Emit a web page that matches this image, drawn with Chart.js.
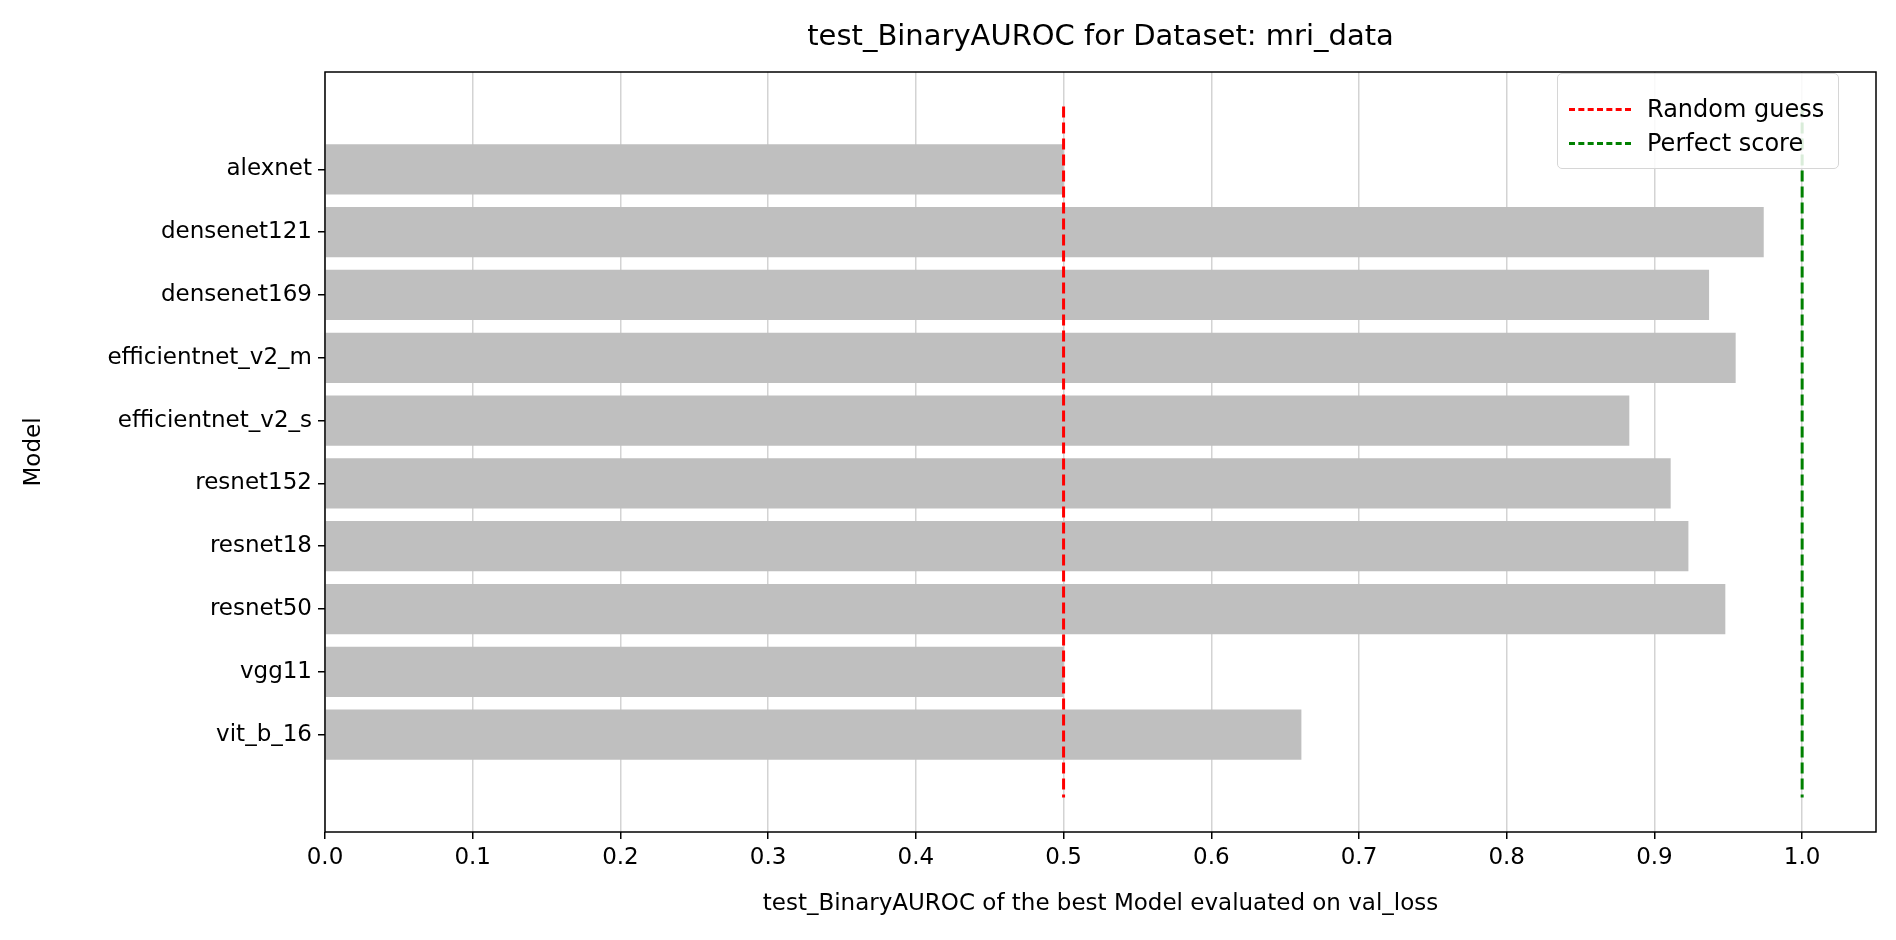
<!DOCTYPE html>
<html>
<head>
<meta charset="utf-8">
<script src="https://cdn.jsdelivr.net/npm/chart.js@4/dist/chart.umd.min.js"></script>
<style>
  body { margin: 0; background: #fff; font-family: "DejaVu Sans", sans-serif; }
  #wrap { position: relative; width: 1896px; height: 940px; }
  #title { position: absolute; left: 325px; width: 1551px; top: 18px; text-align: center; font-size: 29px; color: #000; line-height: 34px; }
  #legend { position: absolute; left: 1557px; top: 73px; width: 280px; height: 94px; border: 1.5px solid #d6d6d6; border-radius: 5px; background: rgba(255,255,255,0.85); font-size: 24px; }
  .row { position: absolute; left: 11px; display: flex; align-items: center; height: 28px; }
  .sw { width: 62px; height: 0; border-top: 3px dashed; margin-right: 16px; }
</style>
</head>
<body>
<div id="wrap">
  <canvas id="c" width="1896" height="940"></canvas>
  <div id="title">test_BinaryAUROC for Dataset: mri_data</div>
  <div id="legend">
    <div class="row" style="top:21px"><div class="sw" style="border-color:#ff0000"></div>Random guess</div>
    <div class="row" style="top:55px"><div class="sw" style="border-color:#008000"></div>Perfect score</div>
  </div>
</div>
<script>
const models = ['alexnet', 'densenet121', 'densenet169', 'efficientnet_v2_m', 'efficientnet_v2_s',
  'resnet152', 'resnet18', 'resnet50', 'vgg11', 'vit_b_16'];
const scores = [0.5, 0.974, 0.937, 0.955, 0.883, 0.911, 0.923, 0.948, 0.5, 0.661];
const randomGuess = 0.5;
const perfectScore = 1.0;
const xTicks = [0, 0.1, 0.2, 0.3, 0.4, 0.5, 0.6, 0.7, 0.8, 0.9, 1.0];

const font = { family: 'DejaVu Sans', size: 23 };

const boxPlugin = {
  id: 'box',
  afterDraw(chart) {
    const a = chart.chartArea, ctx = chart.ctx;
    ctx.save();
    ctx.strokeStyle = '#000';
    ctx.lineWidth = 1.5;
    ctx.strokeRect(a.left, a.top, a.right - a.left, a.bottom - a.top);
    ctx.restore();
  }
};

new Chart(document.getElementById('c'), {
  type: 'bar',
  data: {
    datasets: [{
      type: 'bar',
      data: models.map((m, i) => ({ x: scores[i], y: i })),
      backgroundColor: '#bfbfbf',
      barPercentage: 0.8,
      categoryPercentage: 1.0,
      order: 2
    }, {
      type: 'line',
      data: [{ x: randomGuess, y: -1 }, { x: randomGuess, y: 10 }],
      borderColor: '#ff0000',
      borderWidth: 3,
      borderDash: [11, 5],
      pointRadius: 0,
      order: 1
    }, {
      type: 'line',
      data: [{ x: perfectScore, y: -1 }, { x: perfectScore, y: 10 }],
      borderColor: '#008000',
      borderWidth: 3,
      borderDash: [11, 5],
      pointRadius: 0,
      order: 1
    }]
  },
  options: {
    indexAxis: 'y',
    responsive: false,
    animation: false,
    layout: { padding: { top: 72, right: 20, left: 0, bottom: 0 } },
    plugins: { legend: { display: false }, tooltip: { enabled: false } },
    scales: {
      x: {
        type: 'linear',
        offset: false,
        min: 0, max: 1.05,
        afterBuildTicks: s => { s.ticks = xTicks.map(v => ({ value: v })); },
        afterFit: s => { s.height = 108; },
        ticks: { color: '#000', font, padding: 5, maxRotation: 0, callback: v => v.toFixed(1) },
        grid: { color: '#d3d3d3', lineWidth: 1.5, tickLength: 7, tickColor: '#000', offset: false },
        border: { display: false },
        title: { display: true, text: 'test_BinaryAUROC of the best Model evaluated on val_loss', color: '#000', font, padding: { top: 4, bottom: 22 } }
      },
      y: {
        type: 'linear',
        offset: false,
        reverse: true,
        min: -1.55, max: 10.55,
        afterBuildTicks: s => { s.ticks = models.map((m, i) => ({ value: i })); },
        afterFit: s => { s.width = 325; },
        ticks: { color: '#000', font, padding: 6, callback: v => models[v] },
        grid: { drawOnChartArea: false, tickLength: 7, tickColor: '#000', lineWidth: 1.5, offset: false },
        border: { display: false },
        title: { display: true, text: 'Model', color: '#000', font, padding: { top: 20, bottom: 0 } }
      }
    }
  },
  plugins: [boxPlugin]
});
</script>
</body>
</html>
